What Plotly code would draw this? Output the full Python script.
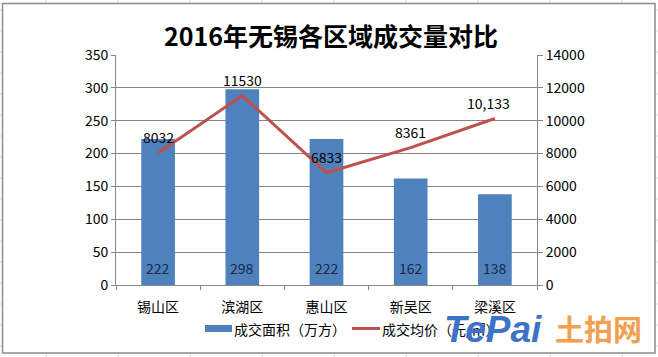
import plotly.graph_objects as go

categories = ["锡山区", "滨湖区", "惠山区", "新吴区", "梁溪区"]
area_values = [222, 298, 222, 162, 138]
price_values = [8032, 11530, 6833, 8361, 10133]
price_labels = ["8032", "11530", "6833", "8361", "10,133"]
area_name = "成交面积（万方）"
price_name = "成交均价（元/㎡）"
title_text = "2016年无锡各区域成交量对比"

W, H = 658, 357
L, R, T, B = 116, 537, 55, 285
pw, ph = R - L, B - T

def px(x):
    return (x - L) / pw

def py(y):
    return (B - y) / ph

FONT = "Noto Sans CJK SC, Noto Sans, sans-serif"
BAR_C = "#4F81BD"
LINE_C = "#C0504D"
GRID_C = "#868686"

fig = go.Figure()
fig.add_trace(go.Bar(
    x=categories, y=area_values, name=area_name,
    marker=dict(color=BAR_C, line=dict(width=0)),
    width=0.4, showlegend=False,
))
fig.add_trace(go.Scatter(
    x=categories, y=price_values, name=price_name, yaxis="y2",
    mode="lines", line=dict(color=LINE_C, width=3), showlegend=False,
))

annotations = []
# bar value labels near the bar base
for c, v in zip(categories, area_values):
    annotations.append(dict(x=c, y=0, xref="x", yref="y", text=str(v),
                            showarrow=False, yanchor="middle", yshift=17,
                            font=dict(size=14, color="#1B2A47", family=FONT)))
# line value labels above points
for c, v, t in zip(categories, price_values, price_labels):
    annotations.append(dict(x=c, y=v, xref="x", yref="y2", text=t,
                            showarrow=False, yanchor="middle", yshift=16,
                            xshift=-6 if "," in t else 0,
                            font=dict(size=14, color="#000000", family=FONT)))

shapes = []
# spreadsheet gridlines outside chart area
for cx in [46, 118, 190, 262, 334, 406, 478, 550, 622]:
    for (y0, y1) in [(0, 3), (353, 357)]:
        shapes.append(dict(type="line", xref="paper", yref="paper",
                           x0=px(cx), x1=px(cx), y0=py(y0), y1=py(y1),
                           line=dict(color="#D9D9D9", width=1), layer="below"))
for ry in range(10, 357, 21):
    for (x0, x1) in [(0, 2), (656, 658)]:
        shapes.append(dict(type="line", xref="paper", yref="paper",
                           x0=px(x0), x1=px(x1), y0=py(ry), y1=py(ry),
                           line=dict(color="#D9D9D9", width=1), layer="below"))
# chart area border
shapes.append(dict(type="rect", xref="paper", yref="paper",
                   x0=px(2.5), x1=px(655), y0=py(3.5), y1=py(353),
                   line=dict(color="#8C8C8C", width=1.5), fillcolor="rgba(0,0,0,0)",
                   layer="below"))
# legend swatches
shapes.append(dict(type="rect", xref="paper", yref="paper",
                   x0=px(205), x1=px(232), y0=py(332), y1=py(325),
                   line=dict(width=0), fillcolor=BAR_C))
shapes.append(dict(type="line", xref="paper", yref="paper",
                   x0=px(352), x1=px(380), y0=py(328.5), y1=py(328.5),
                   line=dict(color=LINE_C, width=3)))

annotations += [
    dict(text=area_name, xref="paper", yref="paper", x=px(232), y=py(328.5),
         xanchor="left", yanchor="middle", showarrow=False,
         font=dict(size=14, color="#000000", family=FONT)),
    dict(text=price_name, xref="paper", yref="paper", x=px(380), y=py(328.5),
         xanchor="left", yanchor="middle", showarrow=False,
         font=dict(size=14, color="#000000", family=FONT)),
    dict(text="<b>" + title_text + "</b>", xref="paper", yref="paper",
         x=px(331), y=py(35), xanchor="center", yanchor="middle",
         showarrow=False, font=dict(size=25, color="#000000", family=FONT)),
    dict(text="<b><i>TePai</i></b>", xref="paper", yref="paper",
         x=px(442), y=py(329), xanchor="left", yanchor="middle",
         showarrow=False, font=dict(size=37, color="#3D72C8", family="Liberation Sans, Arial")),
    dict(text="<b>土拍网</b>", xref="paper", yref="paper",
         x=px(553), y=py(328), xanchor="left", yanchor="middle",
         showarrow=False, font=dict(size=29, color="#F0A050", family=FONT)),
]

fig.update_layout(
    width=W, height=H,
    margin=dict(l=L, r=W - R, t=T, b=H - B, pad=0, autoexpand=False),
    paper_bgcolor="#FFFFFF", plot_bgcolor="#FFFFFF",
    font=dict(family=FONT, size=14, color="#000000"),
    showlegend=False,
    bargap=0.6,
    xaxis=dict(showgrid=False, showline=True, linecolor=GRID_C, linewidth=1,
               ticks="outside", tickson="boundaries", ticklen=4, tickcolor=GRID_C,
               ticklabelstandoff=9,
               tickfont=dict(size=14, family=FONT), fixedrange=True),
    yaxis=dict(range=[0, 350], dtick=50, showgrid=True, gridcolor=GRID_C, gridwidth=1,
               showline=True, linecolor=GRID_C, linewidth=1, ticks="outside",
               ticklen=4, tickcolor=GRID_C, zeroline=False, tickformat="d",
               tickfont=dict(size=14, family=FONT)),
    yaxis2=dict(range=[0, 14000], dtick=2000, overlaying="y", side="right",
                showgrid=False, showline=True, linecolor=GRID_C, linewidth=1,
                ticks="outside", ticklen=5, tickcolor=GRID_C, zeroline=False,
                tickformat="d", tickfont=dict(size=14, family=FONT)),
    shapes=shapes, annotations=annotations,
)

fig.write_html("out.html", config={"displayModeBar": False},
               post_script="document.body.style.margin='0';document.body.style.overflow='hidden';")
